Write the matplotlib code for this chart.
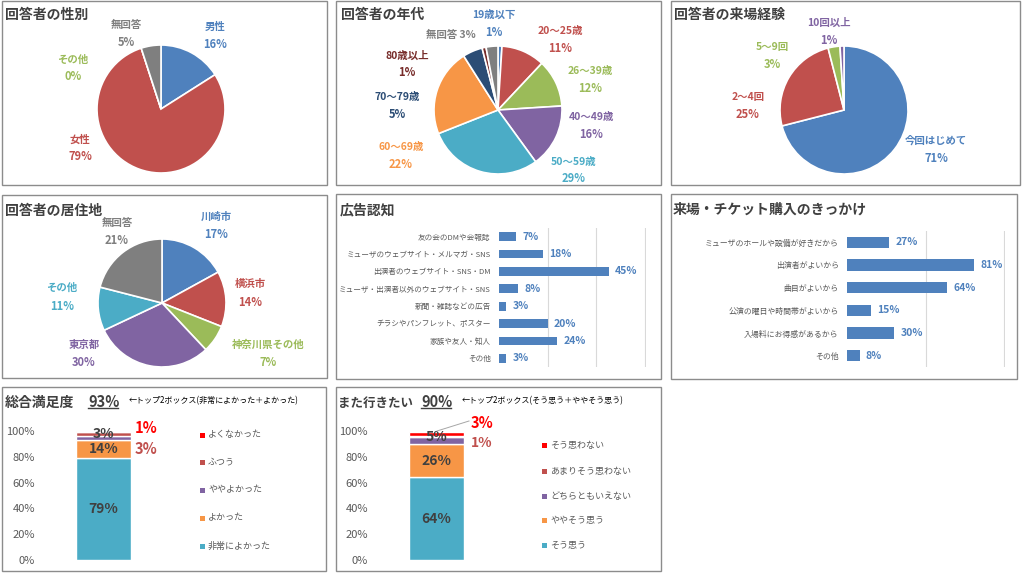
import matplotlib
matplotlib.use('Agg')
import matplotlib.pyplot as plt
from matplotlib.patches import Rectangle

plt.rcParams['font.family'] = ['Noto Sans CJK JP', 'DejaVu Sans']

W, H = 1024, 573

# ---------------- data ----------------
gender_labels = ['男性', '女性', 'その他', '無回答']
gender_values = [16, 79, 0, 5]

age_labels = ['19歳以下', '20〜25歳', '26〜39歳', '40〜49歳', '50〜59歳',
              '60〜69歳', '70〜79歳', '80歳以上', '無回答']
age_values = [1, 11, 12, 16, 29, 22, 5, 1, 3]

visit_labels = ['今回はじめて', '2〜4回', '5〜9回', '10回以上']
visit_values = [71, 25, 3, 1]

res_labels = ['川崎市', '横浜市', '神奈川県その他', '東京都', 'その他', '無回答']
res_values = [17, 14, 7, 30, 11, 21]

ad_labels = ['友の会のDMや会報誌', 'ミューザのウェブサイト・メルマガ・SNS',
             '出演者のウェブサイト・SNS・DM', 'ミューザ・出演者以外のウェブサイト・SNS',
             '新聞・雑誌などの広告', 'チラシやパンフレット、ポスター', '家族や友人・知人', 'その他']
ad_values = [7, 18, 45, 8, 3, 20, 24, 3]

reason_labels = ['ミューザのホールや設備が好きだから', '出演者がよいから', '曲目がよいから',
                 '公演の曜日や時間帯がよいから', '入場料にお得感があるから', 'その他']
reason_values = [27, 81, 64, 15, 30, 8]

sat_labels = ['非常によかった', 'よかった', 'ややよかった', 'ふつう', 'よくなかった']
sat_values = [79, 14, 3, 3, 1]

again_labels = ['そう思う', 'ややそう思う', 'どちらともいえない', 'あまりそう思わない', 'そう思わない']
again_values = [64, 26, 5, 1, 3]

# ---------------- styles ----------------
BLUE, RED, GREEN, PURPLE = '#4F81BD', '#C0504D', '#9BBB59', '#8064A2'
AQUA, ORANGE, NAVY, DRED, GRAY = '#4BACC6', '#F79646', '#2C4D75', '#772C2A', '#7F7F7F'
BRED = '#FF0000'
TXT = '#404040'
TICK = '#595959'

fig = plt.figure(figsize=(W / 100, H / 100), dpi=100)
fig.patch.set_facecolor('white')


def px_rect(x0, y0, x1, y1):
    return [x0 / W, 1 - y1 / H, (x1 - x0) / W, (y1 - y0) / H]


ov = fig.add_axes([0, 0, 1, 1])
ov.set_xlim(0, W)
ov.set_ylim(H, 0)
ov.axis('off')
ov.set_zorder(10)

# panel borders
panels = [(2, 1, 327, 185), (336, 1, 661, 185), (671, 1, 1020, 185),
          (2, 195, 327, 378), (336, 194, 661, 379), (671, 194, 1017, 379),
          (2, 387, 326, 571), (336, 387, 661, 571)]
for (x0, y0, x1, y1) in panels:
    ov.add_patch(Rectangle((x0, y0), x1 - x0, y1 - y0, fill=False,
                           edgecolor='#8C8C8C', linewidth=1.0))


def title(x, y, s, fs=10):
    ov.text(x, y, s, fontsize=fs, fontweight='bold', color=TXT, ha='left', va='center')


def pie_panel(cx, cy, r, values, colors):
    s = r * 1.04
    ax = fig.add_axes(px_rect(cx - s, cy - s, cx + s, cy + s))
    ax.pie(values, colors=colors, startangle=90, counterclock=False,
           wedgeprops=dict(edgecolor='white', linewidth=1.2))
    ax.set_xlim(-1.04, 1.04)
    ax.set_ylim(-1.04, 1.04)
    ax.set_aspect('equal')
    ax.axis('off')
    return ax


def pie_labels(labels, values, positions, colors, fs=7.5, gap=17):
    for lab, v, (x, y), c in zip(labels, values, positions, colors):
        if y is None:
            continue
        ov.text(x, y, lab, fontsize=fs, fontweight='bold', color=c, ha='center', va='center')
        ov.text(x, y + gap, f'{v}%', fontsize=fs + 0.5, fontweight='bold', color=c,
                ha='center', va='center')


# ---- panel 1: gender ----
title(5, 15, '回答者の性別')
g_colors = [BLUE, RED, GREEN, GRAY]
pie_panel(161, 109, 64, gender_values, g_colors)
pie_labels(gender_labels, gender_values,
           [(215, 27), (80, 140), (73, 60), (126, 25)], g_colors)

# ---- panel 2: age ----
title(341, 15, '回答者の年代')
a_colors = [BLUE, RED, GREEN, PURPLE, AQUA, ORANGE, NAVY, DRED, GRAY]
pie_panel(498, 110, 64, age_values, a_colors)
a_pos = [(494, 15), (560, 31), (590, 71), (591, 117), (574, 162),
         (401, 147), (397, 97), (407, 56), (None, None)]
pie_labels(age_labels, age_values, a_pos, a_colors)
ov.text(451, 35, f'{age_labels[-1]} {age_values[-1]}%', fontsize=7.5, fontweight='bold',
        color=GRAY, ha='center', va='center')

# ---- panel 3: visits ----
title(674, 15, '回答者の来場経験')
v_colors = [BLUE, RED, GREEN, PURPLE]
pie_panel(844, 110, 64, visit_values, v_colors)
pie_labels(visit_labels, visit_values,
           [(936, 141), (748, 97), (772, 47), (829, 23)], v_colors)

# ---- panel 4: residence ----
title(5, 211, '回答者の居住地')
r_colors = [BLUE, RED, GREEN, PURPLE, AQUA, GRAY]
pie_panel(162, 303, 64, res_values, r_colors)
pie_labels(res_labels, res_values,
           [(216, 217), (250, 284), (268, 345), (84, 345), (62, 288), (117, 223)],
           r_colors, gap=18)


# ---- bar panels ----
def hbar_panel(x0, x1, y0, y1, labels, values, xmax, grid_ticks, label_fs, val_fs):
    ax = fig.add_axes(px_rect(x0, y0, x1 + 1, y1))
    ys = list(range(len(values)))
    ax.barh(ys, values, height=0.5, color=BLUE, edgecolor='none', zorder=3)
    ax.set_ylim(len(values) - 0.5, -0.5)
    ax.set_xlim(0, xmax * (x1 + 1 - x0) / (x1 - x0))
    ax.set_yticks(ys)
    ax.set_yticklabels(labels, fontsize=label_fs, color=TICK)
    ax.set_xticks(grid_ticks)
    ax.tick_params(axis='x', length=0, labelbottom=False)
    ax.tick_params(axis='y', length=0, pad=6)
    ax.grid(axis='x', color='#D9D9D9', linewidth=0.8, zorder=0)
    for sp in ax.spines.values():
        sp.set_visible(False)
    ax.patch.set_alpha(0)
    for yi, v in zip(ys, values):
        ax.annotate(f'{v}%', (v, yi), xytext=(4.5, 0), textcoords='offset points',
                    va='center', ha='left', fontsize=val_fs, fontweight='bold', color=BLUE,
                    annotation_clip=False)
    return ax


title(340, 210, '広告認知')
hbar_panel(499, 645, 228, 367, ad_labels, ad_values, 60, [20, 40, 60], 5.5, 7.5)

title(673, 210, '来場・チケット購入のきっかけ')
hbar_panel(847, 1004, 231, 367, reason_labels, reason_values, 100, [50, 100], 5.7, 7.5)


# ---- stacked panels ----
def stack_panel(ox, values, colors, inside_n):
    ax = fig.add_axes(px_rect(ox + 48, 431, ox + 159, 560))
    bottom = 0
    for i, (v, c) in enumerate(zip(values, colors)):
        ax.bar(0, v, bottom=bottom, width=0.99, color=c, edgecolor='white', linewidth=1)
        if i < inside_n:
            lift = 3 if v < 10 else 0
            ax.annotate(f'{v}%', (0, bottom + v / 2), xytext=(0, lift),
                        textcoords='offset points', ha='center', va='center', fontsize=10,
                        fontweight='bold', color=TXT, annotation_clip=False)
        bottom += v
    ax.set_xlim(-1, 1)
    ax.set_ylim(0, 100)
    ax.set_yticks(range(0, 101, 20))
    ax.yaxis.set_major_formatter(lambda v, p: f'{v:.0f}%')
    ax.tick_params(axis='y', length=0, pad=9.4, labelsize=8, labelcolor=TICK)
    ax.set_xticks([])
    for sp in ax.spines.values():
        sp.set_visible(False)
    ax.patch.set_alpha(0)
    return ax


def manual_legend(x, ys, labels, colors):
    for y, lab, c in zip(ys, labels, colors):
        ov.add_patch(Rectangle((x - 2.5, y - 2.5), 5, 5, facecolor=c, edgecolor='none'))
        ov.text(x + 6, y, lab, fontsize=6.5, color=TICK, ha='left', va='center')


s_colors = [AQUA, ORANGE, PURPLE, RED, BRED]

# panel 7
title(5, 403, '総合満足度')
sat_top2 = sat_values[0] + sat_values[1]
ov.text(88, 402, f'{sat_top2}%', fontsize=10.5, fontweight='bold', color=TXT,
        ha='left', va='center')
ov.plot([88, 118], [407.5, 407.5], color=TXT, linewidth=1)
ov.text(129, 401, '←トップ2ボックス(非常によかった＋よかった)', fontsize=5.8,
        color='black', ha='left', va='center')
stack_panel(0, sat_values, s_colors, 3)
ov.text(135, 428, f'{sat_values[4]}%', fontsize=10.5, fontweight='bold', color=BRED,
        ha='left', va='center')
ov.text(135, 449, f'{sat_values[3]}%', fontsize=10.5, fontweight='bold', color=RED,
        ha='left', va='center')
manual_legend(202, [546, 518, 490, 462, 435], sat_labels, s_colors)

# panel 8
title(338, 403, 'また行きたい', fs=9)
again_top2 = again_values[0] + again_values[1]
ov.text(421, 402, f'{again_top2}%', fontsize=10.5, fontweight='bold', color=TXT,
        ha='left', va='center')
ov.plot([421, 451], [407.5, 407.5], color=TXT, linewidth=1)
ov.text(462, 401, '←トップ2ボックス(そう思う＋ややそう思う)', fontsize=5.8,
        color='black', ha='left', va='center')
stack_panel(333, again_values, s_colors, 3)
ov.plot([469, 437], [421, 431], color='#A6A6A6', linewidth=0.7)
ov.text(471, 423, f'{again_values[4]}%', fontsize=10.5, fontweight='bold', color=BRED,
        ha='left', va='center')
ov.text(471, 443, f'{again_values[3]}%', fontsize=10, fontweight='bold', color=RED,
        ha='left', va='center')
manual_legend(544, [545, 520, 496, 471, 445], again_labels, s_colors)

fig.savefig('out.png', dpi=100)
